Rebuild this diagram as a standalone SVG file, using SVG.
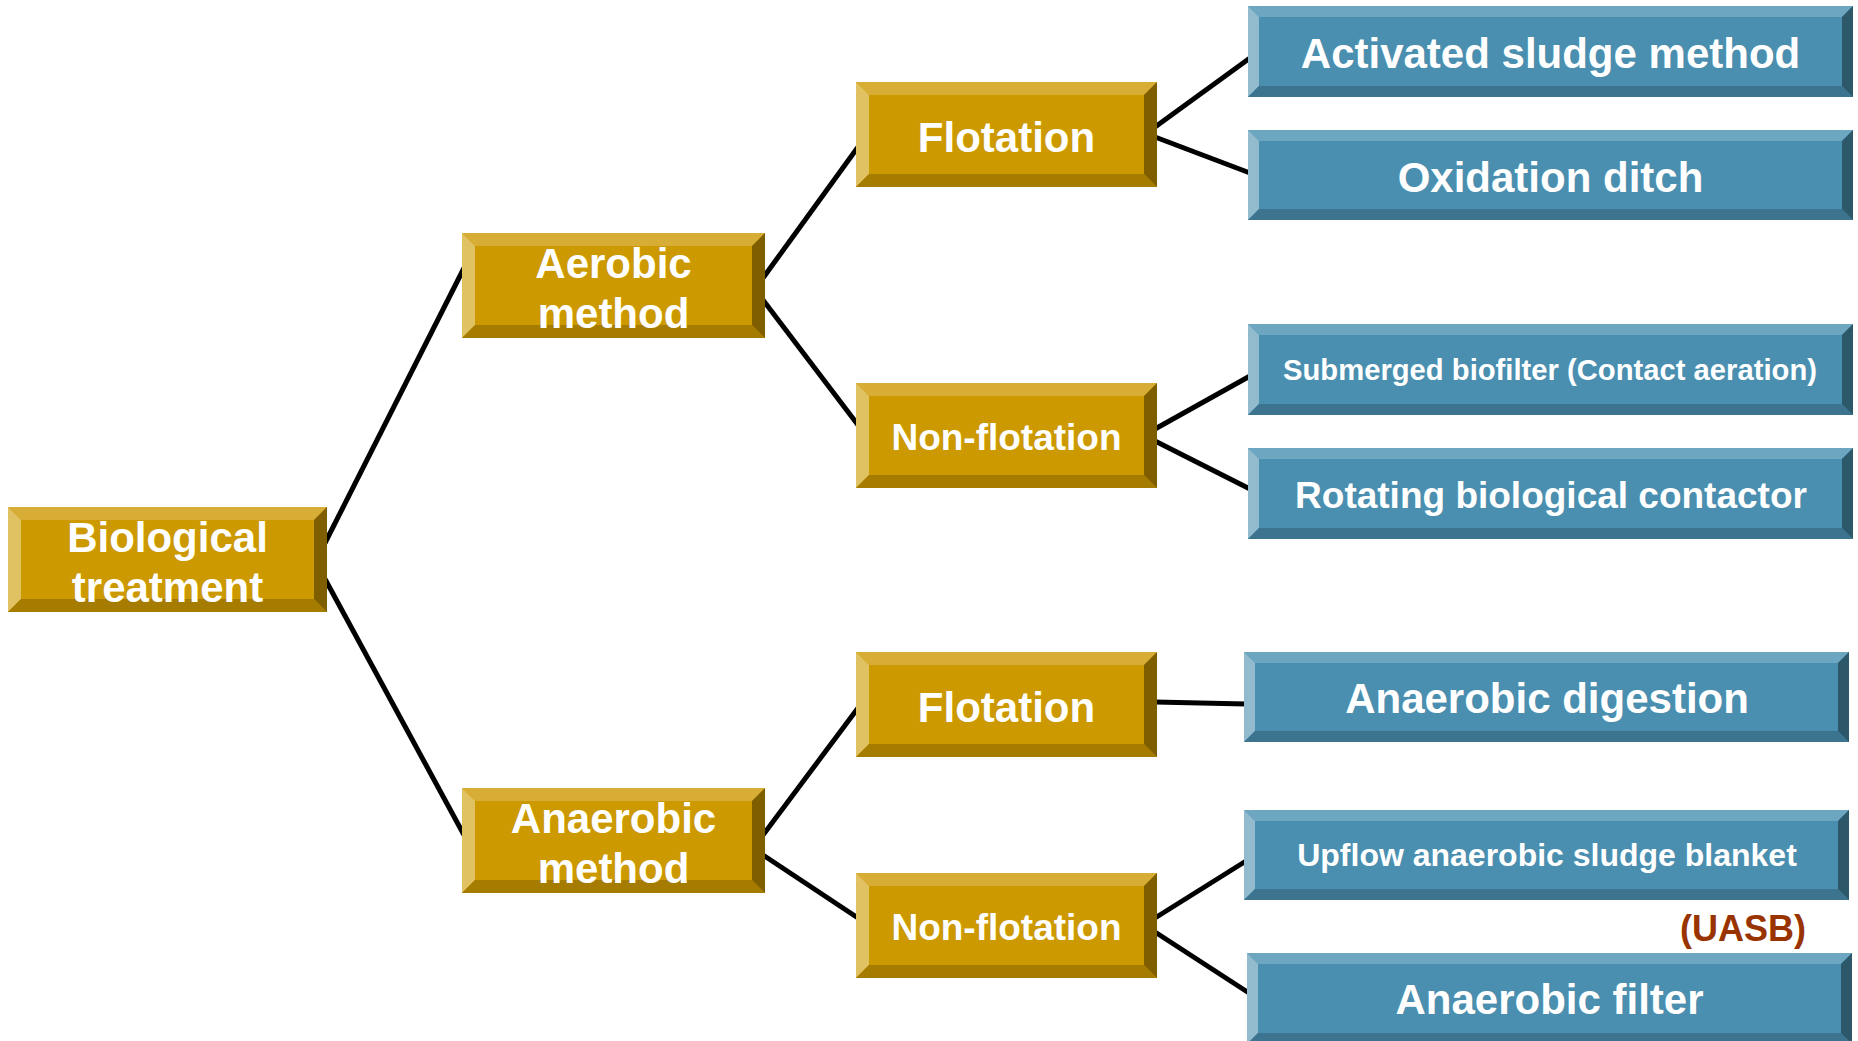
<svg xmlns="http://www.w3.org/2000/svg" width="1858" height="1041" viewBox="0 0 1858 1041">
<style>
.g-m{fill:#CC9900}.g-t{fill:#D7AD36}.g-l{fill:#E0C263}.g-b{fill:#A67C00}.g-r{fill:#7F5E00}
.b-m{fill:#4A8FAF}.b-t{fill:#6DA6C1}.b-l{fill:#92BBCE}.b-b{fill:#3C7490}.b-r{fill:#2D5869}
.t{font-family:"Liberation Sans",Arial,sans-serif;font-weight:bold;fill:#FFFFFF;text-anchor:middle}
.conn line{stroke:#000000;stroke-width:5;stroke-linecap:butt}
</style>
<rect width="1858" height="1041" fill="#FFFFFF"/>
<g id="connectors" class="conn">
<line x1="325" y1="543" x2="464" y2="268"/>
<line x1="325" y1="579" x2="464" y2="835"/>
<line x1="763" y1="278" x2="858" y2="147"/>
<line x1="763" y1="300" x2="858" y2="425"/>
<line x1="1155" y1="127" x2="1250" y2="58"/>
<line x1="1155" y1="137" x2="1250" y2="173"/>
<line x1="1155" y1="429" x2="1250" y2="376"/>
<line x1="1155" y1="441" x2="1250" y2="489"/>
<line x1="763" y1="835" x2="858" y2="708"/>
<line x1="763" y1="855" x2="858" y2="918"/>
<line x1="1155" y1="702" x2="1246" y2="704"/>
<line x1="1155" y1="918" x2="1246" y2="861"/>
<line x1="1155" y1="932" x2="1249" y2="993"/>
</g>
<g id="biological-treatment">
<rect class="g-m" x="8" y="507" width="319" height="105"/>
<polygon class="g-t" points="8,507 327,507 314,520 21,520"/>
<polygon class="g-l" points="8,507 21,520 21,599 8,612"/>
<polygon class="g-b" points="8,612 21,599 314,599 327,612"/>
<polygon class="g-r" points="327,507 327,612 314,599 314,520"/>
<text class="t" x="167.5" y="552" font-size="42">Biological</text>
<text class="t" x="167.5" y="602" font-size="42">treatment</text>
</g>
<g id="aerobic-method">
<rect class="g-m" x="462" y="233" width="303" height="105"/>
<polygon class="g-t" points="462,233 765,233 752,246 475,246"/>
<polygon class="g-l" points="462,233 475,246 475,325 462,338"/>
<polygon class="g-b" points="462,338 475,325 752,325 765,338"/>
<polygon class="g-r" points="765,233 765,338 752,325 752,246"/>
<text class="t" x="613.5" y="278" font-size="42">Aerobic</text>
<text class="t" x="613.5" y="328" font-size="42">method</text>
</g>
<g id="anaerobic-method">
<rect class="g-m" x="462" y="788" width="303" height="105"/>
<polygon class="g-t" points="462,788 765,788 752,801 475,801"/>
<polygon class="g-l" points="462,788 475,801 475,880 462,893"/>
<polygon class="g-b" points="462,893 475,880 752,880 765,893"/>
<polygon class="g-r" points="765,788 765,893 752,880 752,801"/>
<text class="t" x="613.5" y="833" font-size="42">Anaerobic</text>
<text class="t" x="613.5" y="883" font-size="42">method</text>
</g>
<g id="flotation-aerobic">
<rect class="g-m" x="856" y="82" width="301" height="105"/>
<polygon class="g-t" points="856,82 1157,82 1144,95 869,95"/>
<polygon class="g-l" points="856,82 869,95 869,174 856,187"/>
<polygon class="g-b" points="856,187 869,174 1144,174 1157,187"/>
<polygon class="g-r" points="1157,82 1157,187 1144,174 1144,95"/>
<text class="t" x="1006.5" y="152" font-size="42">Flotation</text>
</g>
<g id="non-flotation-aerobic">
<rect class="g-m" x="856" y="383" width="301" height="105"/>
<polygon class="g-t" points="856,383 1157,383 1144,396 869,396"/>
<polygon class="g-l" points="856,383 869,396 869,475 856,488"/>
<polygon class="g-b" points="856,488 869,475 1144,475 1157,488"/>
<polygon class="g-r" points="1157,383 1157,488 1144,475 1144,396"/>
<text class="t" x="1006.5" y="450" font-size="37">Non-flotation</text>
</g>
<g id="flotation-anaerobic">
<rect class="g-m" x="856" y="652" width="301" height="105"/>
<polygon class="g-t" points="856,652 1157,652 1144,665 869,665"/>
<polygon class="g-l" points="856,652 869,665 869,744 856,757"/>
<polygon class="g-b" points="856,757 869,744 1144,744 1157,757"/>
<polygon class="g-r" points="1157,652 1157,757 1144,744 1144,665"/>
<text class="t" x="1006.5" y="722" font-size="42">Flotation</text>
</g>
<g id="non-flotation-anaerobic">
<rect class="g-m" x="856" y="873" width="301" height="105"/>
<polygon class="g-t" points="856,873 1157,873 1144,886 869,886"/>
<polygon class="g-l" points="856,873 869,886 869,965 856,978"/>
<polygon class="g-b" points="856,978 869,965 1144,965 1157,978"/>
<polygon class="g-r" points="1157,873 1157,978 1144,965 1144,886"/>
<text class="t" x="1006.5" y="940" font-size="37">Non-flotation</text>
</g>
<g id="activated-sludge-method">
<rect class="b-m" x="1248" y="6" width="605" height="91"/>
<polygon class="b-t" points="1248,6 1853,6 1842,17 1259,17"/>
<polygon class="b-l" points="1248,6 1259,17 1259,86 1248,97"/>
<polygon class="b-b" points="1248,97 1259,86 1842,86 1853,97"/>
<polygon class="b-r" points="1853,6 1853,97 1842,86 1842,17"/>
<text class="t" x="1550.5" y="68" font-size="42">Activated sludge method</text>
</g>
<g id="oxidation-ditch">
<rect class="b-m" x="1248" y="130" width="605" height="90"/>
<polygon class="b-t" points="1248,130 1853,130 1842,141 1259,141"/>
<polygon class="b-l" points="1248,130 1259,141 1259,209 1248,220"/>
<polygon class="b-b" points="1248,220 1259,209 1842,209 1853,220"/>
<polygon class="b-r" points="1853,130 1853,220 1842,209 1842,141"/>
<text class="t" x="1550.5" y="192" font-size="42">Oxidation ditch</text>
</g>
<g id="submerged-biofilter">
<rect class="b-m" x="1248" y="324" width="605" height="91"/>
<polygon class="b-t" points="1248,324 1853,324 1842,335 1259,335"/>
<polygon class="b-l" points="1248,324 1259,335 1259,404 1248,415"/>
<polygon class="b-b" points="1248,415 1259,404 1842,404 1853,415"/>
<polygon class="b-r" points="1853,324 1853,415 1842,404 1842,335"/>
<text class="t" x="1550" y="380" font-size="30" textLength="534" lengthAdjust="spacingAndGlyphs">Submerged biofilter (Contact aeration)</text>
</g>
<g id="rotating-biological-contactor">
<rect class="b-m" x="1248" y="448" width="605" height="91"/>
<polygon class="b-t" points="1248,448 1853,448 1842,459 1259,459"/>
<polygon class="b-l" points="1248,448 1259,459 1259,528 1248,539"/>
<polygon class="b-b" points="1248,539 1259,528 1842,528 1853,539"/>
<polygon class="b-r" points="1853,448 1853,539 1842,528 1842,459"/>
<text class="t" x="1551" y="508" font-size="37">Rotating biological contactor</text>
</g>
<g id="anaerobic-digestion">
<rect class="b-m" x="1244" y="652" width="605" height="90"/>
<polygon class="b-t" points="1244,652 1849,652 1838,663 1255,663"/>
<polygon class="b-l" points="1244,652 1255,663 1255,731 1244,742"/>
<polygon class="b-b" points="1244,742 1255,731 1838,731 1849,742"/>
<polygon class="b-r" points="1849,652 1849,742 1838,731 1838,663"/>
<text class="t" x="1547" y="713" font-size="42">Anaerobic digestion</text>
</g>
<g id="upflow-anaerobic-sludge-blanket">
<rect class="b-m" x="1244" y="810" width="605" height="90"/>
<polygon class="b-t" points="1244,810 1849,810 1838,821 1255,821"/>
<polygon class="b-l" points="1244,810 1255,821 1255,889 1244,900"/>
<polygon class="b-b" points="1244,900 1255,889 1838,889 1849,900"/>
<polygon class="b-r" points="1849,810 1849,900 1838,889 1838,821"/>
<text class="t" x="1547" y="866" font-size="32">Upflow anaerobic sludge blanket</text>
</g>
<g id="uasb-label">
<text x="1680" y="941" font-family="Liberation Sans, Arial, sans-serif" font-weight="bold" font-size="36" fill="#993300">(UASB)</text>
</g>
<g id="anaerobic-filter">
<rect class="b-m" x="1247" y="953" width="605" height="91"/>
<polygon class="b-t" points="1247,953 1852,953 1841,964 1258,964"/>
<polygon class="b-l" points="1247,953 1258,964 1258,1033 1247,1044"/>
<polygon class="b-b" points="1247,1044 1258,1033 1841,1033 1852,1044"/>
<polygon class="b-r" points="1852,953 1852,1044 1841,1033 1841,964"/>
<text class="t" x="1549.5" y="1014" font-size="42">Anaerobic filter</text>
</g>
</svg>
